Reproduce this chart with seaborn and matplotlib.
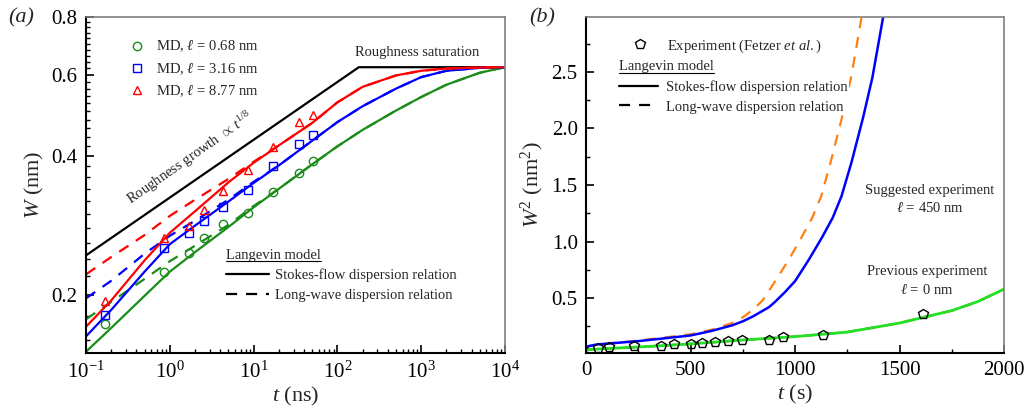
import matplotlib
matplotlib.use("Agg")
import matplotlib.pyplot as plt
import seaborn as sns
from matplotlib.lines import Line2D
from matplotlib.ticker import (FixedLocator, MultipleLocator, LogLocator,
                               NullFormatter, FormatStrFormatter)

# ---------------- panel (a): roughness W(t), log-log ----------------
t_ns = [0.1, 0.2, 0.5, 1, 2, 5, 10, 20, 50, 100, 200, 500, 1000, 2000, 5000, 10000]

w_stokes_068 = [0.151, 0.170, 0.1995, 0.225, 0.248, 0.281, 0.310, 0.340, 0.384, 0.420,
                0.456, 0.502, 0.537, 0.571, 0.606, 0.623]
w_stokes_316 = [0.163, 0.186, 0.225, 0.258, 0.283, 0.319, 0.350, 0.382, 0.432, 0.474,
                0.513, 0.560, 0.593, 0.612, 0.621, 0.623]
w_stokes_877 = [0.171, 0.195, 0.238, 0.273, 0.304, 0.351, 0.387, 0.422, 0.472, 0.523,
                0.565, 0.598, 0.612, 0.619, 0.622, 0.623]

w_long_068 = [0.1775, 0.1935, 0.217, 0.237, 0.256, 0.284, 0.312, 0.340, 0.384, 0.420,
              0.456, 0.502, 0.537, 0.571, 0.606, 0.623]
w_long_316 = [0.197, 0.215, 0.246, 0.269, 0.290, 0.322, 0.352, 0.382, 0.432, 0.474,
              0.513, 0.560, 0.593, 0.612, 0.621, 0.623]
w_long_877 = [0.222, 0.242, 0.270, 0.297, 0.322, 0.357, 0.389, 0.422, 0.472, 0.523,
              0.565, 0.598, 0.612, 0.619, 0.622, 0.623]

# guide: growth ~ t^(1/8) then saturation
t_guide = [0.1, 180, 10000]
w_guide = [0.244, 0.623, 0.623]

# MD points
t_md = [0.17, 0.85, 1.7, 2.56, 4.3, 8.6, 17, 34.8, 50.7]
w_md_068 = [0.173, 0.225, 0.247, 0.266, 0.285, 0.302, 0.335, 0.367, 0.391]
w_md_316 = [0.181, 0.253, 0.273, 0.290, 0.311, 0.338, 0.381, 0.424, 0.445]
w_md_877 = [0.194, 0.266, 0.283, 0.306, 0.336, 0.373, 0.419, 0.474, 0.492]

# ---------------- panel (b): W^2(t), linear ----------------
t_exp = [55, 109, 228, 359, 422, 500, 553, 618, 681, 747, 877, 942, 1135, 1612]
w2_exp = [0.059, 0.065, 0.074, 0.074, 0.095, 0.095, 0.100, 0.108, 0.117, 0.132,
          0.132, 0.158, 0.178, 0.361]

t_prev = [0, 10, 100, 250, 500, 750, 1000, 1250, 1500, 1750, 1875, 2000]
w2_prev_stokes = [0.03, 0.045, 0.055, 0.068, 0.095, 0.13, 0.16, 0.20, 0.28, 0.39, 0.47, 0.58]
w2_prev_long = [0.03, 0.045, 0.055, 0.068, 0.095, 0.13, 0.16, 0.20, 0.28, 0.39, 0.47, 0.58]

t_sugg_stokes = [0, 10, 50, 250, 500, 600, 700, 750, 800, 875, 900, 950, 1000, 1066,
                 1130, 1180, 1222, 1270, 1326, 1370, 1421]
w2_sugg_stokes = [0.05, 0.075, 0.09, 0.12, 0.17, 0.21, 0.26, 0.295, 0.34, 0.42, 0.46,
                  0.55, 0.65, 0.84, 1.04, 1.21, 1.40, 1.70, 2.10, 2.45, 2.98]
t_sugg_long = [0, 10, 50, 250, 500, 600, 700, 750, 800, 845, 905, 970, 1032, 1082,
               1125, 1170, 1225, 1268, 1318]
w2_sugg_long = [0.05, 0.07, 0.09, 0.125, 0.18, 0.22, 0.28, 0.33, 0.40, 0.48, 0.65, 0.84,
                1.04, 1.21, 1.40, 1.70, 2.10, 2.45, 2.98]

GREEN, BLUE, RED = "#1a8c1a", "#0000ff", "#ff0000"
LIME, ORANGE = "#22e022", "#ff8010"
DASH = (0, (5, 4))

sns.set_theme(style="ticks")
plt.rcParams["font.family"] = ["Liberation Serif", "DejaVu Serif"]
plt.rcParams["mathtext.fontset"] = "custom"
plt.rcParams["mathtext.rm"] = "Liberation Serif"
plt.rcParams["mathtext.it"] = "Liberation Serif:italic"
plt.rcParams["mathtext.bf"] = "Liberation Serif:bold"

fig = plt.figure(figsize=(10.33, 4.19), dpi=100)
ax1 = fig.add_axes([0.0833, 0.1575, 0.4056, 0.8019])
ax2 = fig.add_axes([0.5673, 0.1575, 0.4047, 0.8019])


def style_axes(ax):
    for side in ["left", "bottom"]:
        ax.spines[side].set_color("black")
        ax.spines[side].set_linewidth(1.5)
    for side in ["top", "right"]:
        ax.spines[side].set_color("#7f7f7f")
        ax.spines[side].set_linewidth(1.2)
    ax.tick_params(which="both", direction="in", top=False, right=False,
                   colors="black", labelsize=15, width=1.2)
    ax.tick_params(which="major", length=6, pad=6)
    ax.tick_params(which="minor", length=3, width=1.0)


# ---- panel (a)
ax1.set_xscale("log")
ax1.set_yscale("log")

sns.lineplot(x=t_guide, y=w_guide, ax=ax1, color="black", lw=1.6, legend=False)
for w_s, w_l, c in [(w_stokes_068, w_long_068, GREEN),
                    (w_stokes_316, w_long_316, BLUE),
                    (w_stokes_877, w_long_877, RED)]:
    sns.lineplot(x=t_ns, y=w_s, ax=ax1, color=c, lw=1.6, legend=False)
    sns.lineplot(x=t_ns, y=w_l, ax=ax1, color=c, lw=1.6, linestyle=DASH, legend=False)

md_sets = [(w_md_068, GREEN, "o", r"MD, $\ell\,=\,0.68$ nm"),
           (w_md_316, BLUE, "s", r"MD, $\ell\,=\,3.16$ nm"),
           (w_md_877, RED, "^", r"MD, $\ell\,=\,8.77$ nm")]
for w, c, m, _ in md_sets:
    sns.lineplot(x=t_md, y=w, ax=ax1, color=c, marker=m, linestyle="none",
                 markerfacecolor="none", markeredgecolor=c, markeredgewidth=1.0,
                 markersize=6, legend=False, zorder=5)

ax1.set_xlim(0.1, 1e4)
ax1.set_ylim(0.15, 0.8)
ax1.yaxis.set_major_locator(FixedLocator([0.2, 0.4, 0.6, 0.8]))
ax1.yaxis.set_major_formatter(FormatStrFormatter("%.1f"))
ax1.yaxis.set_minor_locator(MultipleLocator(0.02))
ax1.yaxis.set_minor_formatter(NullFormatter())
ax1.xaxis.set_major_locator(LogLocator(base=10, numticks=10))
ax1.xaxis.set_minor_locator(LogLocator(base=10, subs=range(2, 10), numticks=20))
ax1.xaxis.set_minor_formatter(NullFormatter())
style_axes(ax1)
ax1.set_xlabel(r"$t$ (ns)", fontsize=16, labelpad=2)
ax1.set_ylabel(r"$W$ (nm)", fontsize=16, labelpad=4)

ax1.text(1.75, 0.395, r"Roughness growth $\propto\, t^{1/8}$", rotation=35,
         ha="center", va="center", fontsize=10.5)
ax1.text(890, 0.672, "Roughness saturation", ha="center", va="center", fontsize=10.5)

md_handles = [Line2D([], [], color=c, marker=m, linestyle="none", markerfacecolor="none",
                     markeredgewidth=1.0, markersize=6, label=lab)
              for _, c, m, lab in md_sets]
leg_md = ax1.legend(handles=md_handles, loc="upper left", bbox_to_anchor=(0.105, 0.935),
                    frameon=False, fontsize=10.5, handlelength=1.0, handletextpad=0.8,
                    labelspacing=0.45, borderpad=0, borderaxespad=0)
ax1.add_artist(leg_md)

model_handles = [Line2D([], [], color="black", lw=1.6, label="Stokes-flow dispersion relation"),
                 Line2D([], [], color="black", lw=1.6, linestyle=DASH,
                        label="Long-wave dispersion relation")]
leg_a = ax1.legend(handles=model_handles, title="Langevin model", alignment="left",
                   loc="upper left", bbox_to_anchor=(0.335, 0.31), frameon=False,
                   fontsize=10.5, title_fontsize=10.5, handlelength=2.9,
                   handletextpad=0.4, labelspacing=0.45, borderpad=0, borderaxespad=0)

# ---- panel (b)
sns.lineplot(x=t_prev, y=w2_prev_long, ax=ax2, color=RED, lw=1.6, linestyle=DASH, legend=False)
sns.lineplot(x=t_prev, y=w2_prev_stokes, ax=ax2, color=LIME, lw=2.0, legend=False)
sns.lineplot(x=t_sugg_long, y=w2_sugg_long, ax=ax2, color=ORANGE, lw=1.6, linestyle=DASH,
             legend=False)
sns.lineplot(x=t_sugg_stokes, y=w2_sugg_stokes, ax=ax2, color=BLUE, lw=1.8, legend=False)
sns.lineplot(x=t_exp, y=w2_exp, ax=ax2, color="black", marker="p", linestyle="none",
             markerfacecolor="none", markeredgecolor="black", markeredgewidth=1.0,
             markersize=7, legend=False, zorder=5)

ax2.set_xlim(0, 2000)
ax2.set_ylim(0.015, 2.985)
ax2.xaxis.set_major_locator(MultipleLocator(500))
ax2.xaxis.set_minor_locator(MultipleLocator(250))
ax2.yaxis.set_major_locator(MultipleLocator(0.5))
ax2.yaxis.set_minor_locator(MultipleLocator(0.25))
ax2.yaxis.set_major_formatter(FormatStrFormatter("%.1f"))
style_axes(ax2)
ax2.set_xlabel(r"$t$ (s)", fontsize=16, labelpad=2)
ax2.set_ylabel(r"$W^2$ (nm$^2$)", fontsize=16, labelpad=4)

ax2.text(1645, 1.37, "Suggested experiment\n" + r"$\ell\,=\,450$ nm", ha="center",
         va="center", fontsize=10.5, linespacing=1.4)
ax2.text(1630, 0.65, "Previous experiment\n" + r"$\ell\,=\,0$ nm", ha="center",
         va="center", fontsize=10.5, linespacing=1.4)

exp_handle = [Line2D([], [], color="black", marker="p", linestyle="none",
                     markerfacecolor="none", markeredgewidth=1.0, markersize=7,
                     label=r"Experiment (Fetzer $\mathit{et\ al.}$)")]
leg_exp = ax2.legend(handles=exp_handle, loc="upper left", bbox_to_anchor=(0.083, 0.94),
                     frameon=False, fontsize=10.5, handlelength=2.7, handletextpad=0.5,
                     borderpad=0, borderaxespad=0)
ax2.add_artist(leg_exp)
leg_b = ax2.legend(handles=model_handles, title="Langevin model", alignment="left",
                   loc="upper left", bbox_to_anchor=(0.075, 0.875), frameon=True,
                   facecolor="white", edgecolor="none", framealpha=1.0,
                   fontsize=10.5, title_fontsize=10.5, handlelength=2.7,
                   handletextpad=0.5, labelspacing=0.45, borderpad=0.1, borderaxespad=0)
leg_b.set_zorder(6)

fig.text(0.008, 0.958, "(a)", fontsize=16, style="italic", va="center")
fig.text(0.512, 0.958, "(b)", fontsize=16, style="italic", va="center")

# underline the legend titles
fig.canvas.draw()
inv = fig.transFigure.inverted()
for leg in [leg_a, leg_b]:
    bb = leg.get_title().get_window_extent().transformed(inv)
    y = bb.y0 + 0.002
    fig.add_artist(Line2D([bb.x0, bb.x1], [y, y], transform=fig.transFigure,
                          color="black", lw=0.8, zorder=10))

fig.savefig("out.png", dpi=100)
